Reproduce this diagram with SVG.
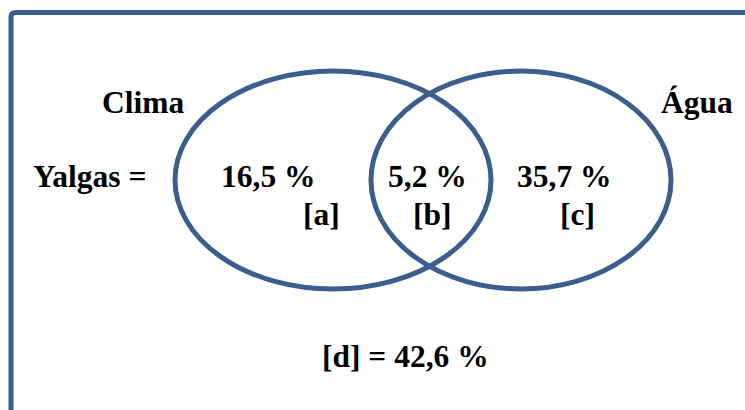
<svg xmlns="http://www.w3.org/2000/svg" width="745" height="410" viewBox="0 0 745 410">
<style>
text{font-family:'Liberation Serif','Times New Roman',Times,serif;font-weight:700;font-size:31.5px;fill:#000}
.s{fill:none;stroke:#3B5E8C;stroke-width:5}
</style>
<rect x="0" y="0" width="745" height="410" fill="#fff"/>
<g id="frame"><path class="s" d="M11 412 V17 Q11 12.5 16 12.5 H750"/></g>
<g id="clima">
<ellipse class="s" cx="333" cy="180" rx="158" ry="109"/>
<text x="102" y="113">Clima</text>
</g>
<g id="agua">
<ellipse class="s" cx="521" cy="180" rx="150" ry="109"/>
<text x="661" y="113">Água</text>
</g>
<g id="labels">
<text x="33" y="187">Yalgas =</text>
<text x="221" y="187">16,5 %</text>
<text x="388" y="187">5,2 %</text>
<text x="517" y="187">35,7 %</text>
<text x="303" y="225">[a]</text>
<text x="413" y="225">[b]</text>
<text x="560" y="225">[c]</text>
<text x="322" y="367">[d] = 42,6 %</text>
</g>
</svg>
